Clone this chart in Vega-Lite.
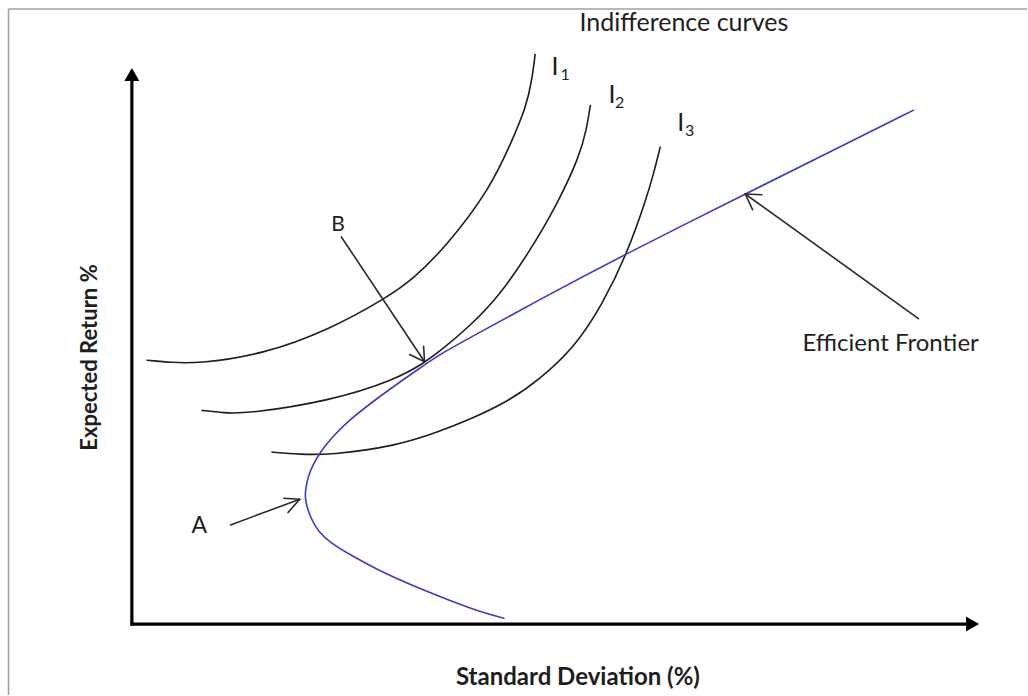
{
  "$schema": "https://vega.github.io/schema/vega-lite/v6.json",
  "width": 1028,
  "height": 696,
  "autosize": {"type": "fit", "contains": "padding"},
  "padding": 0,
  "background": "white",
  "config": {"view": {"stroke": null}},
  "datasets": {
    "indiff": [
      {"s": "I1", "x": 14.7, "y": 264.3},
      {"s": "I1", "x": 40, "y": 262},
      {"s": "I1", "x": 64.7, "y": 260.7},
      {"s": "I1", "x": 131, "y": 270},
      {"s": "I1", "x": 198, "y": 295},
      {"s": "I1", "x": 254.7, "y": 326.7},
      {"s": "I1", "x": 281, "y": 345},
      {"s": "I1", "x": 314.7, "y": 378.3},
      {"s": "I1", "x": 358, "y": 435},
      {"s": "I1", "x": 381, "y": 485},
      {"s": "I1", "x": 394.7, "y": 518.3},
      {"s": "I1", "x": 400.5, "y": 545},
      {"s": "I1", "x": 403.7, "y": 571},
      {"s": "I2", "x": 69.7, "y": 214},
      {"s": "I2", "x": 92, "y": 211.5},
      {"s": "I2", "x": 114.7, "y": 210.7},
      {"s": "I2", "x": 198, "y": 223.3},
      {"s": "I2", "x": 264.7, "y": 245},
      {"s": "I2", "x": 293, "y": 262},
      {"s": "I2", "x": 308, "y": 273},
      {"s": "I2", "x": 338, "y": 298},
      {"s": "I2", "x": 368, "y": 329},
      {"s": "I2", "x": 398, "y": 373},
      {"s": "I2", "x": 424.7, "y": 418.3},
      {"s": "I2", "x": 448, "y": 468.3},
      {"s": "I2", "x": 455, "y": 495},
      {"s": "I2", "x": 459, "y": 520},
      {"s": "I3", "x": 139.7, "y": 172.3},
      {"s": "I3", "x": 168, "y": 170},
      {"s": "I3", "x": 198, "y": 169.3},
      {"s": "I3", "x": 264.7, "y": 178.3},
      {"s": "I3", "x": 308, "y": 193},
      {"s": "I3", "x": 336, "y": 204},
      {"s": "I3", "x": 374.7, "y": 221.7},
      {"s": "I3", "x": 408, "y": 245},
      {"s": "I3", "x": 443, "y": 277},
      {"s": "I3", "x": 471, "y": 320},
      {"s": "I3", "x": 496, "y": 371.7},
      {"s": "I3", "x": 514.7, "y": 425},
      {"s": "I3", "x": 522.5, "y": 452},
      {"s": "I3", "x": 529, "y": 478.3}
    ],
    "frontier": [
      {"i": 1, "x": 373, "y": 5.7},
      {"i": 2, "x": 348, "y": 12.3},
      {"i": 3, "x": 314.7, "y": 25},
      {"i": 4, "x": 281.3, "y": 38.3},
      {"i": 5, "x": 248, "y": 53.3},
      {"i": 6, "x": 221.3, "y": 67.7},
      {"i": 7, "x": 198, "y": 81.7},
      {"i": 8, "x": 186.3, "y": 93.3},
      {"i": 9, "x": 179.7, "y": 105},
      {"i": 10, "x": 175.3, "y": 116.7},
      {"i": 11, "x": 173.3, "y": 126.7},
      {"i": 12, "x": 174, "y": 136.7},
      {"i": 13, "x": 176.7, "y": 148.3},
      {"i": 14, "x": 180.7, "y": 158.3},
      {"i": 15, "x": 188, "y": 171.7},
      {"i": 16, "x": 201, "y": 187.5},
      {"i": 17, "x": 214.7, "y": 202},
      {"i": 18, "x": 248, "y": 228.3},
      {"i": 19, "x": 291, "y": 258.3},
      {"i": 20, "x": 308, "y": 270},
      {"i": 21, "x": 341.3, "y": 288.3},
      {"i": 22, "x": 408, "y": 325},
      {"i": 23, "x": 496.3, "y": 371.7},
      {"i": 24, "x": 614, "y": 430.7},
      {"i": 25, "x": 700, "y": 473.5},
      {"i": 26, "x": 783, "y": 515}
    ],
    "frame": [
      {"x": -123.5, "y": 616, "x2": 896, "y2": 616},
      {"x": -123.5, "y": 616, "x2": -123.5, "y2": -71}
    ],
    "axes": [
      {"x": -1.5, "y": 0, "x2": 836, "y2": 0},
      {"x": 0, "y": -1.5, "x2": 0, "y2": 545}
    ],
    "heads": [
      {"x": 0, "y": 550.5, "d": "up"},
      {"x": 841.5, "y": 0, "d": "right"}
    ],
    "pointers": [
      {"x": 209.7, "y": 387.7, "x2": 293, "y2": 262.7},
      {"x": 293, "y": 262.7, "x2": 278, "y2": 270},
      {"x": 293, "y": 262.7, "x2": 292, "y2": 278.3},
      {"x": 98.7, "y": 99.3, "x2": 168, "y2": 125},
      {"x": 168, "y": 125, "x2": 152, "y2": 126},
      {"x": 168, "y": 125, "x2": 156.3, "y2": 111.7},
      {"x": 787.3, "y": 306, "x2": 614, "y2": 430.7},
      {"x": 614, "y": 430.7, "x2": 630.7, "y2": 430},
      {"x": 614, "y": 430.7, "x2": 621.3, "y2": 415}
    ],
    "labels": [
      {"t": "Indifference curves", "x": 552.5, "y": 593.5, "fs": 25, "al": "c"},
      {"t": "Efficient Frontier", "x": 759.5, "y": 273.3, "fs": 24, "al": "c"},
      {"t": "A", "x": 59.7, "y": 91.7, "fs": 23, "al": "l"},
      {"t": "B", "x": 199.5, "y": 393.3, "fs": 21, "al": "l"},
      {"t": "I", "x": 420, "y": 550, "fs": 25, "al": "l"},
      {"t": "1", "x": 429, "y": 545, "fs": 16, "al": "l"},
      {"t": "I", "x": 477, "y": 521.7, "fs": 25, "al": "l"},
      {"t": "2", "x": 483.7, "y": 516.7, "fs": 16, "al": "l"},
      {"t": "I", "x": 546, "y": 494.3, "fs": 25, "al": "l"},
      {"t": "3", "x": 553.7, "y": 489, "fs": 16, "al": "l"}
    ],
    "titles": [
      {"t": "Standard Deviation (%)", "x": 446.5, "y": -61, "fs": 24, "ang": 0},
      {"t": "Expected Return %", "x": -35, "y": 267, "fs": 22, "ang": 270}
    ]
  },
  "layer": [
    {
      "data": {"name": "frame"},
      "mark": {"type": "rule", "color": "#a0a0a0", "strokeWidth": 1.5},
      "encoding": {
        "x": {"field": "x", "type": "quantitative", "scale": {"domain": [-132, 896], "nice": false, "zero": false}, "axis": null},
        "y": {"field": "y", "type": "quantitative", "scale": {"domain": [-71, 625], "nice": false, "zero": false}, "axis": null},
        "x2": {"field": "x2"},
        "y2": {"field": "y2"}
      }
    },
    {
      "data": {"name": "indiff"},
      "mark": {"type": "line", "interpolate": "basis", "strokeWidth": 1.6, "color": "#1e1e1e"},
      "encoding": {
        "x": {"field": "x", "type": "quantitative"},
        "y": {"field": "y", "type": "quantitative"},
        "detail": {"field": "s", "type": "nominal"}
      }
    },
    {
      "data": {"name": "frontier"},
      "mark": {"type": "line", "interpolate": "basis", "strokeWidth": 1.6, "color": "#3c3cc0"},
      "encoding": {
        "x": {"field": "x", "type": "quantitative"},
        "y": {"field": "y", "type": "quantitative"},
        "order": {"field": "i", "type": "quantitative"}
      }
    },
    {
      "data": {"name": "pointers"},
      "mark": {"type": "rule", "color": "#2a2a2a", "strokeWidth": 1.6, "strokeCap": "round"},
      "encoding": {
        "x": {"field": "x", "type": "quantitative"},
        "y": {"field": "y", "type": "quantitative"},
        "x2": {"field": "x2"},
        "y2": {"field": "y2"}
      }
    },
    {
      "data": {"name": "axes"},
      "mark": {"type": "rule", "color": "black", "strokeWidth": 3.2},
      "encoding": {
        "x": {"field": "x", "type": "quantitative"},
        "y": {"field": "y", "type": "quantitative"},
        "x2": {"field": "x2"},
        "y2": {"field": "y2"}
      }
    },
    {
      "data": {"name": "heads"},
      "mark": {"type": "point", "filled": true, "size": 225, "opacity": 1, "color": "black", "strokeWidth": 0},
      "encoding": {
        "x": {"field": "x", "type": "quantitative"},
        "y": {"field": "y", "type": "quantitative"},
        "shape": {"field": "d", "type": "nominal", "scale": {"domain": ["up", "right"], "range": ["triangle-up", "triangle-right"]}, "legend": null}
      }
    },
    {
      "data": {"name": "labels"},
      "transform": [{"filter": "datum.al === 'c'"}],
      "mark": {"type": "text", "align": "center", "baseline": "alphabetic", "font": "Lato", "color": "#1e1e1e"},
      "encoding": {
        "x": {"field": "x", "type": "quantitative"},
        "y": {"field": "y", "type": "quantitative"},
        "text": {"field": "t"},
        "size": {"field": "fs", "type": "quantitative", "scale": null}
      }
    },
    {
      "data": {"name": "labels"},
      "transform": [{"filter": "datum.al === 'l'"}],
      "mark": {"type": "text", "align": "left", "baseline": "alphabetic", "font": "Lato", "color": "#1e1e1e"},
      "encoding": {
        "x": {"field": "x", "type": "quantitative"},
        "y": {"field": "y", "type": "quantitative"},
        "text": {"field": "t"},
        "size": {"field": "fs", "type": "quantitative", "scale": null}
      }
    },
    {
      "data": {"name": "titles"},
      "mark": {"type": "text", "align": "center", "baseline": "alphabetic", "font": "Lato", "fontWeight": "bold", "color": "#1e1e1e"},
      "encoding": {
        "x": {"field": "x", "type": "quantitative"},
        "y": {"field": "y", "type": "quantitative"},
        "text": {"field": "t"},
        "size": {"field": "fs", "type": "quantitative", "scale": null},
        "angle": {"field": "ang", "type": "quantitative", "scale": null}
      }
    }
  ]
}
